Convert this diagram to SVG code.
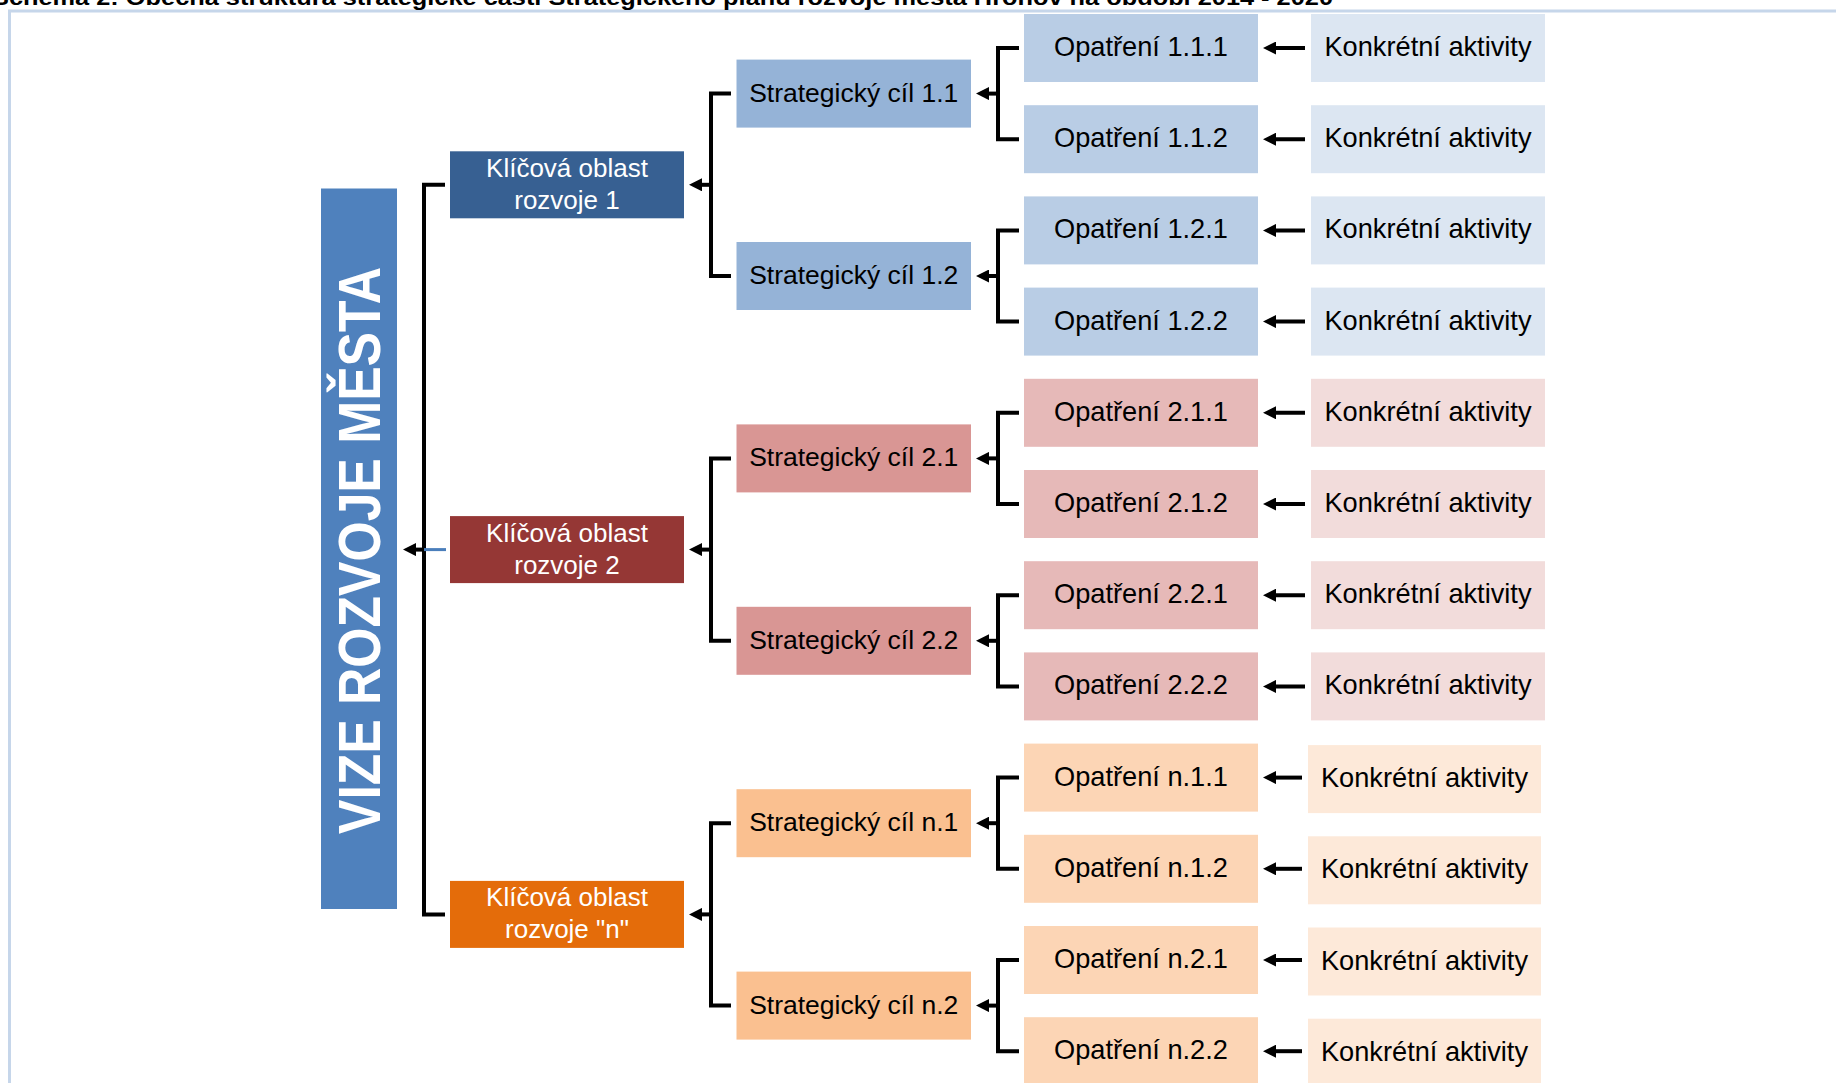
<svg xmlns="http://www.w3.org/2000/svg" width="1836" height="1083" viewBox="0 0 1836 1083">
<style>
text{font-family:"Liberation Sans",Arial,sans-serif;}
.t{font-size:27.2px;fill:#000;text-anchor:middle;}
.s{font-size:26.5px;fill:#000;text-anchor:middle;}
.w{font-size:26px;fill:#fff;text-anchor:middle;}
.ln{fill:none;stroke:#000;stroke-width:4;stroke-linejoin:miter;}
.ar{fill:none;stroke:#000;stroke-width:4;marker-end:url(#ah);}
.ob{fill:#b9cde5}.kb{fill:#dce6f2}.sb{fill:#95b3d7}
.or{fill:#e6b9b8}.kr{fill:#f2dcdb}.sr{fill:#d99694}
.oo{fill:#fcd5b5}.ko{fill:#fde9d9}.so{fill:#fac090}
</style>
<defs>
<marker id="ah" markerUnits="userSpaceOnUse" markerWidth="13" markerHeight="13" viewBox="0 0 13 13" refX="5" refY="6.5" orient="auto"><path d="M0,0 L13,6.5 L0,13 z" fill="#000"/></marker>
</defs>
<rect width="1836" height="1083" fill="#fff"/>
<path d="M9.5,1083 V11 H1836" fill="none" stroke="#c6d6ea" stroke-width="3"/>
<text x="-8" y="4.5" font-size="22" font-weight="bold" fill="#000" textLength="1341" lengthAdjust="spacingAndGlyphs">Schéma 2: Obecná struktura strategické části Strategického plánu rozvoje města Hronov na období 2014 - 2020</text>

<g id="vize"><rect x="321" y="188.5" width="76" height="720.5" fill="#4f81bd"/><text transform="translate(380,550.5) rotate(-90)" font-size="60" font-weight="bold" fill="#fff" text-anchor="middle" textLength="567" lengthAdjust="spacingAndGlyphs">VIZE ROZVOJE MĚSTA</text></g>

<g id="ko1"><rect x="450" y="151.3" width="234" height="67" fill="#376092"/><text class="w" x="567" y="176.8">Klíčová oblast</text><text class="w" x="567" y="208.8">rozvoje 1</text></g>
<g id="ko2"><rect x="450" y="516.1" width="234" height="67" fill="#953735"/><text class="w" x="567" y="541.6">Klíčová oblast</text><text class="w" x="567" y="573.6">rozvoje 2</text></g>
<g id="kon"><rect x="450" y="880.9" width="234" height="67" fill="#e46c0a"/><text class="w" x="567" y="906.4">Klíčová oblast</text><text class="w" x="567" y="938.4">rozvoje "n"</text></g>

<g id="s11"><rect class="sb" x="736.5" y="59.6" width="234.5" height="68"/><text class="s" x="853.7" y="101.6">Strategický cíl 1.1</text></g>
<g id="s12"><rect class="sb" x="736.5" y="242" width="234.5" height="68"/><text class="s" x="853.7" y="284">Strategický cíl 1.2</text></g>
<g id="s21"><rect class="sr" x="736.5" y="424.4" width="234.5" height="68"/><text class="s" x="853.7" y="466.4">Strategický cíl 2.1</text></g>
<g id="s22"><rect class="sr" x="736.5" y="606.8" width="234.5" height="68"/><text class="s" x="853.7" y="648.8">Strategický cíl 2.2</text></g>
<g id="sn1"><rect class="so" x="736.5" y="789.2" width="234.5" height="68"/><text class="s" x="853.7" y="831.2">Strategický cíl n.1</text></g>
<g id="sn2"><rect class="so" x="736.5" y="971.6" width="234.5" height="68"/><text class="s" x="853.7" y="1013.6">Strategický cíl n.2</text></g>

<g id="o111"><rect class="ob" x="1024" y="14" width="234" height="68"/><text class="t" x="1141" y="56">Opatření 1.1.1</text></g>
<g id="o112"><rect class="ob" x="1024" y="105.2" width="234" height="68"/><text class="t" x="1141" y="147.2">Opatření 1.1.2</text></g>
<g id="o121"><rect class="ob" x="1024" y="196.4" width="234" height="68"/><text class="t" x="1141" y="238.4">Opatření 1.2.1</text></g>
<g id="o122"><rect class="ob" x="1024" y="287.6" width="234" height="68"/><text class="t" x="1141" y="329.6">Opatření 1.2.2</text></g>
<g id="o211"><rect class="or" x="1024" y="378.8" width="234" height="68"/><text class="t" x="1141" y="420.8">Opatření 2.1.1</text></g>
<g id="o212"><rect class="or" x="1024" y="470" width="234" height="68"/><text class="t" x="1141" y="512">Opatření 2.1.2</text></g>
<g id="o221"><rect class="or" x="1024" y="561.2" width="234" height="68"/><text class="t" x="1141" y="603.2">Opatření 2.2.1</text></g>
<g id="o222"><rect class="or" x="1024" y="652.4" width="234" height="68"/><text class="t" x="1141" y="694.4">Opatření 2.2.2</text></g>
<g id="on11"><rect class="oo" x="1024" y="743.6" width="234" height="68"/><text class="t" x="1141" y="785.6">Opatření n.1.1</text></g>
<g id="on12"><rect class="oo" x="1024" y="834.8" width="234" height="68"/><text class="t" x="1141" y="876.8">Opatření n.1.2</text></g>
<g id="on21"><rect class="oo" x="1024" y="926" width="234" height="68"/><text class="t" x="1141" y="968">Opatření n.2.1</text></g>
<g id="on22"><rect class="oo" x="1024" y="1017.2" width="234" height="68"/><text class="t" x="1141" y="1059.2">Opatření n.2.2</text></g>

<g id="k111"><rect class="kb" x="1311" y="14" width="234" height="68"/><text class="t" x="1428" y="56">Konkrétní aktivity</text></g>
<g id="k112"><rect class="kb" x="1311" y="105.2" width="234" height="68"/><text class="t" x="1428" y="147.2">Konkrétní aktivity</text></g>
<g id="k121"><rect class="kb" x="1311" y="196.4" width="234" height="68"/><text class="t" x="1428" y="238.4">Konkrétní aktivity</text></g>
<g id="k122"><rect class="kb" x="1311" y="287.6" width="234" height="68"/><text class="t" x="1428" y="329.6">Konkrétní aktivity</text></g>
<g id="k211"><rect class="kr" x="1311" y="378.8" width="234" height="68"/><text class="t" x="1428" y="420.8">Konkrétní aktivity</text></g>
<g id="k212"><rect class="kr" x="1311" y="470" width="234" height="68"/><text class="t" x="1428" y="512">Konkrétní aktivity</text></g>
<g id="k221"><rect class="kr" x="1311" y="561.2" width="234" height="68"/><text class="t" x="1428" y="603.2">Konkrétní aktivity</text></g>
<g id="k222"><rect class="kr" x="1311" y="652.4" width="234" height="68"/><text class="t" x="1428" y="694.4">Konkrétní aktivity</text></g>
<g id="kn11"><rect class="ko" x="1308" y="745.1" width="233" height="68"/><text class="t" x="1424.5" y="787.1">Konkrétní aktivity</text></g>
<g id="kn12"><rect class="ko" x="1308" y="836.3" width="233" height="68"/><text class="t" x="1424.5" y="878.3">Konkrétní aktivity</text></g>
<g id="kn21"><rect class="ko" x="1308" y="927.5" width="233" height="68"/><text class="t" x="1424.5" y="969.5">Konkrétní aktivity</text></g>
<g id="kn22"><rect class="ko" x="1308" y="1018.7" width="233" height="68"/><text class="t" x="1424.5" y="1060.7">Konkrétní aktivity</text></g>

<g id="connectors">
<path class="ln" d="M445,184.8 H424 V914.4 H445"/>
<line x1="424" y1="549.6" x2="446" y2="549.6" stroke="#4a7ebb" stroke-width="3"/>
<line class="ar" x1="424" y1="549.6" x2="411" y2="549.6"/>

<path class="ln" d="M731,93.6 H711 V276 H731"/>
<path class="ln" d="M731,458.4 H711 V640.8 H731"/>
<path class="ln" d="M731,823.2 H711 V1005.6 H731"/>
<line class="ar" x1="711" y1="184.8" x2="697" y2="184.8"/>
<line class="ar" x1="711" y1="549.6" x2="697" y2="549.6"/>
<line class="ar" x1="711" y1="914.4" x2="697" y2="914.4"/>

<path class="ln" d="M1019,48 H998 V139.2 H1019"/>
<path class="ln" d="M1019,230.4 H998 V321.6 H1019"/>
<path class="ln" d="M1019,412.8 H998 V504 H1019"/>
<path class="ln" d="M1019,595.2 H998 V686.4 H1019"/>
<path class="ln" d="M1019,777.6 H998 V868.8 H1019"/>
<path class="ln" d="M1019,960 H998 V1051.2 H1019"/>
<line class="ar" x1="998" y1="93.6" x2="984" y2="93.6"/>
<line class="ar" x1="998" y1="276" x2="984" y2="276"/>
<line class="ar" x1="998" y1="458.4" x2="984" y2="458.4"/>
<line class="ar" x1="998" y1="640.8" x2="984" y2="640.8"/>
<line class="ar" x1="998" y1="823.2" x2="984" y2="823.2"/>
<line class="ar" x1="998" y1="1005.6" x2="984" y2="1005.6"/>

<line class="ar" x1="1305" y1="48" x2="1271" y2="48"/>
<line class="ar" x1="1305" y1="139.2" x2="1271" y2="139.2"/>
<line class="ar" x1="1305" y1="230.4" x2="1271" y2="230.4"/>
<line class="ar" x1="1305" y1="321.6" x2="1271" y2="321.6"/>
<line class="ar" x1="1305" y1="412.8" x2="1271" y2="412.8"/>
<line class="ar" x1="1305" y1="504" x2="1271" y2="504"/>
<line class="ar" x1="1305" y1="595.2" x2="1271" y2="595.2"/>
<line class="ar" x1="1305" y1="686.4" x2="1271" y2="686.4"/>
<line class="ar" x1="1302" y1="777.6" x2="1271" y2="777.6"/>
<line class="ar" x1="1302" y1="868.8" x2="1271" y2="868.8"/>
<line class="ar" x1="1302" y1="960" x2="1271" y2="960"/>
<line class="ar" x1="1302" y1="1051.2" x2="1271" y2="1051.2"/>
</g>
</svg>
